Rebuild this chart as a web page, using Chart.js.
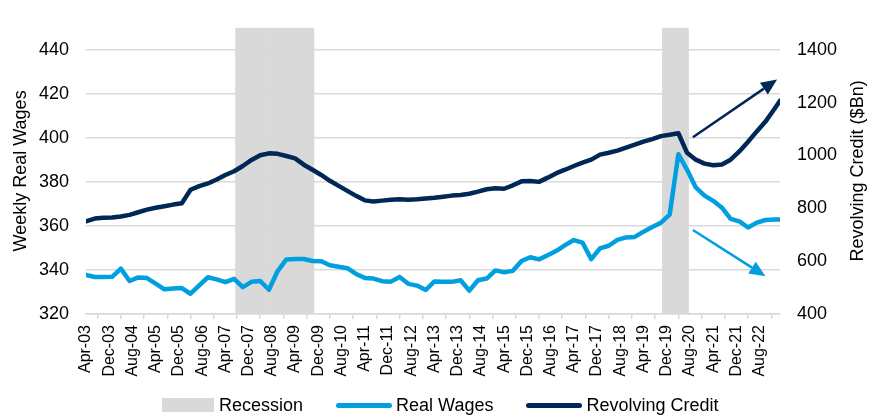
<!DOCTYPE html>
<html>
<head>
<meta charset="utf-8">
<title>Weekly Real Wages vs Revolving Credit</title>
<script src="https://cdn.jsdelivr.net/npm/chart.js"></script>
<style>
    body { margin: 0; background: #fff; }
    #wrap { position: relative; width: 869px; height: 415px; font-family: "Liberation Sans", Arial, sans-serif; }
    #legend { position: absolute; left: 162px; top: 395px; display: flex; align-items: center; font-size: 18px; line-height: 20px; color: #000; }
    .item { display: flex; align-items: center; margin-right: 33px; }
    .box { width: 52px; height: 14px; background: #d9d9d9; margin-right: 5px; }
    .ln { width: 56px; height: 5px; border-radius: 3px; margin-right: 4px; }
</style>
</head>
<body>

<div id="wrap">
    <canvas id="wages_chart" width="869" height="415"></canvas>
    <div id="legend">
        <div class="item"><span class="box"></span>Recession</div>
        <div class="item"><span class="ln" style="background:#009fdf"></span>Real Wages</div>
        <div class="item"><span class="ln" style="background:#002856"></span>Revolving Credit</div>
    </div>
</div>

<script>
// quarterly observations (last one is Mar-23)
const months = [
    'Apr-03','Jul-03','Oct-03',
    'Jan-04','Apr-04','Jul-04','Oct-04',
    'Jan-05','Apr-05','Jul-05','Oct-05',
    'Jan-06','Apr-06','Jul-06','Oct-06',
    'Jan-07','Apr-07','Jul-07','Oct-07',
    'Jan-08','Apr-08','Jul-08','Oct-08',
    'Jan-09','Apr-09','Jul-09','Oct-09',
    'Jan-10','Apr-10','Jul-10','Oct-10',
    'Jan-11','Apr-11','Jul-11','Oct-11',
    'Jan-12','Apr-12','Jul-12','Oct-12',
    'Jan-13','Apr-13','Jul-13','Oct-13',
    'Jan-14','Apr-14','Jul-14','Oct-14',
    'Jan-15','Apr-15','Jul-15','Oct-15',
    'Jan-16','Apr-16','Jul-16','Oct-16',
    'Jan-17','Apr-17','Jul-17','Oct-17',
    'Jan-18','Apr-18','Jul-18','Oct-18',
    'Jan-19','Apr-19','Jul-19','Oct-19',
    'Jan-20','Apr-20','Jul-20','Oct-20',
    'Jan-21','Apr-21','Jul-21','Oct-21',
    'Jan-22','Apr-22','Jul-22','Oct-22',
    'Jan-23','Mar-23'
];

// weekly real wages ($, left axis)
const realWages = [
    337.8, 336.8, 336.8,
    336.9, 340.6, 335.0, 336.6,
    336.3, 333.8, 331.2, 331.6,
    331.8, 329.2, 333.0, 336.7,
    335.7, 334.5, 336.0, 332.2,
    334.6, 335.0, 331.0, 339.5,
    344.8, 345.0, 345.0, 344.1,
    344.0, 342.1, 341.5, 340.8,
    338.2, 336.4, 336.1, 334.9,
    334.7, 336.8, 333.7, 332.9,
    330.9, 334.8, 334.7, 334.6,
    335.3, 330.6, 335.3, 336.1,
    339.8, 339.0, 339.6, 344.1,
    345.8, 344.8, 346.7, 348.7,
    351.3, 353.6, 352.4, 344.9,
    349.8, 351.0, 353.7, 354.8,
    355.0, 357.4, 359.5, 361.5,
    365.1, 392.6, 385.5, 377.5,
    373.8, 371.4, 368.3, 363.2,
    362.1, 359.3, 361.5, 362.7,
    362.9, 362.9
];

// revolving consumer credit ($Bn, right axis)
const revolvingCredit = [
    751, 761, 764,
    765, 769, 775, 785,
    795, 802, 808, 814,
    819, 870, 884, 894,
    909, 926, 940, 960,
    983, 1001, 1008, 1006,
    998, 989, 965, 946,
    926, 904, 885, 866,
    847, 830, 826, 829,
    832, 834, 832, 834,
    837, 840, 844, 848,
    850, 855, 863, 872,
    876, 874, 887, 902,
    903, 900, 916, 933,
    946, 960, 973, 984,
    1003, 1010, 1018, 1030,
    1041, 1052, 1062, 1073,
    1078, 1084, 1010, 984,
    969, 963, 966, 984,
    1015, 1052, 1091, 1128,
    1175, 1207
];

// shaded recession months
const recessionStart = ['Aug-07', 'Nov-19'];
const recessionEnd = ['Oct-09', 'Jul-20'];

// trend arrows [month, revolving credit scale value]
const arrowFrom = [['Sep-20', 1069], ['Sep-20', 718]];
const arrowTo = [['Feb-23', 1287], ['Oct-22', 543]];

const NAVY = '#002856';
const LIGHT_BLUE = '#009fdf';
const GRID = '#d9d9d9';
const FONT = '"Liberation Sans", Arial, sans-serif';
const MONTHS = ['Jan','Feb','Mar','Apr','May','Jun','Jul','Aug','Sep','Oct','Nov','Dec'];

// months since Apr-03
function monthIndex(label) {
    const parts = label.split('-');
    return (Number(parts[1]) - 3) * 12 + MONTHS.indexOf(parts[0]) - 3;
}
function monthLabel(i) {
    const n = i + 3;
    return MONTHS[n % 12] + '-' + String(3 + Math.floor(n / 12)).padStart(2, '0');
}

const recessionBars = [];
recessionStart.forEach((s, k) => {
    for (let m = monthIndex(s); m <= monthIndex(recessionEnd[k]); m++) {
        recessionBars.push({x: m, y: 1});
    }
});

const arrowColors = [NAVY, LIGHT_BLUE];

const extrasPlugin = {
    id: 'extras',
    afterDatasetsDraw(chart) {
        const {ctx, scales} = chart;
        ctx.save();
        arrowFrom.forEach((from, i) => {
            const x1 = scales.x.getPixelForValue(monthIndex(from[0]));
            const y1 = scales.y2.getPixelForValue(from[1]);
            const x2 = scales.x.getPixelForValue(monthIndex(arrowTo[i][0]));
            const y2 = scales.y2.getPixelForValue(arrowTo[i][1]);
            const ang = Math.atan2(y2 - y1, x2 - x1);
            const head = 16, half = 7;
            const bx = x2 - head * Math.cos(ang), by = y2 - head * Math.sin(ang);
            ctx.strokeStyle = arrowColors[i];
            ctx.fillStyle = arrowColors[i];
            ctx.lineWidth = 2.5;
            ctx.beginPath();
            ctx.moveTo(x1, y1);
            ctx.lineTo(bx, by);
            ctx.stroke();
            ctx.beginPath();
            ctx.moveTo(x2, y2);
            ctx.lineTo(bx + half * Math.sin(ang), by - half * Math.cos(ang));
            ctx.lineTo(bx - half * Math.sin(ang), by + half * Math.cos(ang));
            ctx.closePath();
            ctx.fill();
        });
        ctx.restore();
    },
    afterDraw(chart) {
        // right axis title reads bottom-to-top like the left one
        const {ctx, chartArea} = chart;
        ctx.save();
        ctx.translate(858, (chartArea.top + chartArea.bottom) / 2);
        ctx.rotate(-Math.PI / 2);
        ctx.font = '18px ' + FONT;
        ctx.fillStyle = '#000';
        ctx.textAlign = 'center';
        ctx.textBaseline = 'middle';
        ctx.fillText('Revolving Credit ($Bn)', 0, 0);
        ctx.restore();
    }
};

new Chart(document.getElementById('wages_chart'), {
    type: 'line',
    data: {
        datasets: [{
            label: 'Revolving Credit',
            data: months.map((m, i) => ({x: monthIndex(m), y: revolvingCredit[i]})),
            yAxisID: 'y2',
            borderColor: NAVY,
            borderWidth: 4.5,
            borderJoinStyle: 'round',
            borderCapStyle: 'round',
            pointRadius: 0,
            tension: 0,
            order: 1
        }, {
            label: 'Real Wages',
            data: months.map((m, i) => ({x: monthIndex(m), y: realWages[i]})),
            yAxisID: 'y',
            borderColor: LIGHT_BLUE,
            borderWidth: 4.5,
            borderJoinStyle: 'round',
            borderCapStyle: 'round',
            pointRadius: 0,
            tension: 0,
            order: 2
        }, {
            type: 'bar',
            label: 'Recession',
            data: recessionBars,
            yAxisID: 'yRec',
            backgroundColor: GRID,
            borderWidth: 0,
            barPercentage: 1,
            categoryPercentage: 1,
            order: 3
        }]
    },
    options: {
        responsive: false,
        animation: false,
        layout: { padding: { top: 10 } },
        plugins: {
            legend: { display: false },
            tooltip: { enabled: false }
        },
        scales: {
            x: {
                type: 'linear',
                offset: false,
                min: 0,
                max: 239,
                afterFit: (s) => { s.height = 101; },
                grid: { drawOnChartArea: false, color: GRID, lineWidth: 1.5, tickLength: 5 },
                border: { display: true, color: GRID, width: 1.5 },
                ticks: {
                    stepSize: 8,
                    includeBounds: false,
                    autoSkip: false,
                    minRotation: 90,
                    maxRotation: 90,
                    padding: 6,
                    color: '#000',
                    font: { family: FONT, size: 16 },
                    callback: (v) => monthLabel(v)
                }
            },
            y: {
                position: 'left',
                min: 320,
                max: 450,
                afterFit: (s) => { s.width = 86; },
                grid: { color: GRID, lineWidth: 1.5, drawTicks: false },
                border: { display: false },
                ticks: {
                    stepSize: 20,
                    includeBounds: false,
                    padding: 17,
                    color: '#000',
                    font: { family: FONT, size: 18 }
                },
                title: {
                    display: true,
                    text: 'Weekly Real Wages',
                    color: '#000',
                    font: { family: FONT, size: 18 },
                    padding: { top: 10, bottom: 0 }
                }
            },
            y2: {
                position: 'right',
                min: 400,
                max: 1483,
                afterFit: (s) => { s.width = 89; },
                grid: { display: false, drawTicks: false },
                border: { display: false },
                ticks: {
                    stepSize: 200,
                    includeBounds: false,
                    padding: 17,
                    color: '#000',
                    font: { family: FONT, size: 18 },
                    callback: (v) => String(v)
                }
            },
            yRec: {
                display: false,
                min: 0,
                max: 1
            }
        }
    },
    plugins: [extrasPlugin]
});
</script>

</body>
</html>
